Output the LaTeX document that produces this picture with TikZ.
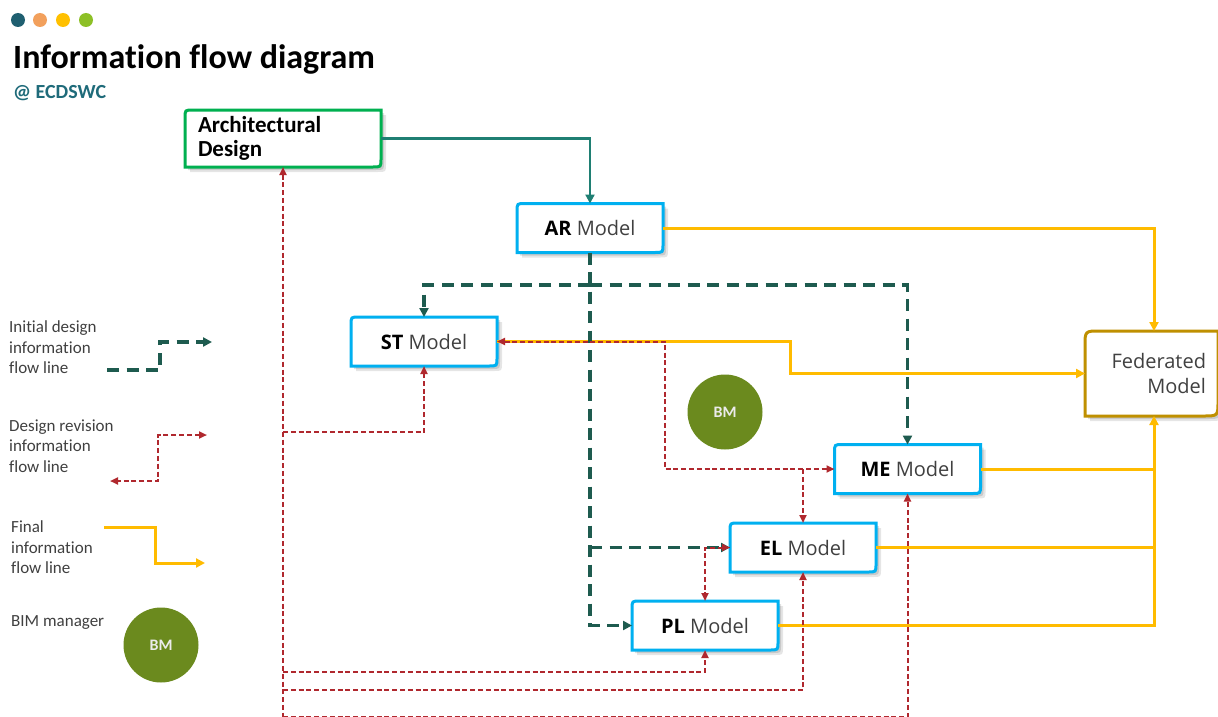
\documentclass[tikz,border=0pt]{standalone}
\usepackage{fontspec}
\setmainfont[Ligatures=NoCommon]{Carlito}
\newfontfamily\modelfont{Open Sans}
\usetikzlibrary{arrows.meta,calc,backgrounds}

\definecolor{tealarrow}{HTML}{1F7F73}
\definecolor{dgreen}{HTML}{1E5B4F}
\definecolor{revred}{HTML}{B0282E}
\definecolor{finyellow}{HTML}{FFBB00}
\definecolor{bluebd}{HTML}{00B0F0}
\definecolor{archbd}{HTML}{00B050}
\definecolor{fedbd}{HTML}{BF9000}
\definecolor{bmgreen}{HTML}{6B8A1E}
\definecolor{txt}{HTML}{404040}
\definecolor{subt}{HTML}{1F6B7A}
\definecolor{dotA}{HTML}{1F5F70}
\definecolor{dotB}{HTML}{F2A05C}
\definecolor{dotC}{HTML}{FFC000}
\definecolor{dotD}{HTML}{8DC026}

% outline with rounded top-left and bottom-right corners, shifted by #4
\newcommand\cornerframe[4]{%
  \path[#3] ($(#1.north west)+(0,#2)+(#4)$) .. controls ($(#1.north west)+(#4)$) .. ($(#1.north west)+(#2,0)+(#4)$)
    -- ($(#1.north east)+(#4)$)
    -- ($(#1.south east)-(0,#2)+(#4)$) .. controls ($(#1.south east)+(#4)$) .. ($(#1.south east)-(#2,0)+(#4)$)
    -- ($(#1.south west)+(#4)$) -- cycle;}

\tikzset{
  model/.style={minimum width=146pt, minimum height=49pt, inner sep=0pt, outer sep=0pt,
    font=\modelfont\fontsize{20}{24}\selectfont, text=txt},
  legendtext/.style={align=left, inner sep=0pt, text=txt, font=\fontsize{17}{20.5}\selectfont},
  bmcircle/.style={circle, fill=bmgreen, minimum size=75pt, inner sep=0pt,
    text=white!92!black, font=\bfseries\fontsize{16}{18}\selectfont},
  initial/.style={dgreen, line width=3.8pt, dash pattern=on 12pt off 7.5pt,
    >={Triangle[length=9pt,width=9pt]}},
  revision/.style={revred, line width=2pt, dash pattern=on 5pt off 2.8pt,
    >={Triangle[length=8pt,width=7pt]}},
  final/.style={finyellow, line width=3pt, >={Triangle[length=9pt,width=9pt]}},
  archflow/.style={tealarrow, line width=2.6pt, >={Triangle[length=9pt,width=9pt]}},
  shadowA/.style={fill=black, opacity=0.10},
  shadowB/.style={fill=black, opacity=0.12},
}

\begin{document}
\begin{tikzpicture}[x=1pt, y=-1pt, line join=miter]
\useasboundingbox (0,0) rectangle (1218,717);

% header
\fill[dotA] (18,20) circle (7);
\fill[dotB] (40,20) circle (7);
\fill[dotC] (63,20) circle (7);
\fill[dotD] (86,20) circle (7);
\node[anchor=base west, inner sep=0pt, font=\bfseries\fontsize{34}{40}\selectfont] (title) at (13,69) {Information flow diagram};
\node[anchor=base west, inner sep=0pt, text=subt, font=\bfseries\fontsize{20}{22}\selectfont] (sub) at (13,99) {@ ECDSWC};

% boxes
\node[minimum width=196pt, minimum height=57pt, text width=170pt, inner xsep=13pt, inner ysep=0pt,
  outer sep=0pt, align=left, font=\bfseries\fontsize{23}{24}\selectfont] (Arch) at (283,138.5)
  {Architectural\\Design};
\node[model] (AR) at (590,228) {\textbf{\color{black}AR} Model};
\node[model] (ST) at (424,341.5) {\textbf{\color{black}ST} Model};
\node[model] (ME) at (907.5,469) {\textbf{\color{black}ME} Model};
\node[model] (EL) at (803,547.5) {\textbf{\color{black}EL} Model};
\node[model] (PL) at (705,625.5) {\textbf{\color{black}PL} Model};
\node[minimum height=85pt, text width=109pt, inner xsep=12pt, inner ysep=0pt, outer sep=0pt,
  align=right, text=txt, font=\modelfont\fontsize{20}{25}\selectfont] (Fed) at (1151.5,373.5)
  {Federated\\Model};

\node[bmcircle] (bm) at (725,412) {BM};

\begin{pgfonlayer}{background}
  \fill[white] (0,0) rectangle (1218,717);
  \foreach \n/\r in {Arch/8,AR/8,ST/8,ME/8,EL/8,PL/8,Fed/15}{
    \cornerframe{\n}{\r}{shadowA}{5,5}
    \cornerframe{\n}{\r}{shadowB}{3,3}
  }
  \cornerframe{Arch}{8}{draw=archbd, line width=3pt, fill=white}{0,0}
  \foreach \n in {AR,ST,ME,EL,PL}{
    \cornerframe{\n}{8}{draw=bluebd, line width=3pt, fill=white}{0,0}
  }
  \cornerframe{Fed}{15}{draw=fedbd, line width=3pt, fill=white}{0,0}
\end{pgfonlayer}

% helper points for the routes
\coordinate (bus) at (1154,0);
\coordinate (gsplit) at (590,285);
\coordinate (ystep) at (790,360);
\coordinate (rstep) at (665,400);
\coordinate (rb0) at (283,720);
\coordinate (rb1) at (283,432);
\coordinate (rb2) at (283,672);
\coordinate (rb3) at (283,690);
\coordinate (rb4) at (283,717);

% design to architectural model
\draw[archflow,->] (Arch.east) -| (AR.north);

% final information flow
\draw[final,->] (AR.east) -| (Fed.north -| bus);
\draw[final,->] (ST.east) -| (ystep) |- (Fed.west);
\draw[final] (ME.east) -- (ME.east -| bus);
\draw[final] (EL.east) -- (EL.east -| bus);
\draw[final,->] (PL.east) -| (Fed.south -| bus);

% initial design flow
\draw[initial,->] (AR.south) |- (PL.west);
\draw[initial,->] (AR.south |- EL.west) -- (EL.west);
\draw[initial,->] (gsplit) -| (ST.north);
\draw[initial,->] (gsplit) -| (ME.north);

% design revision flow
\draw[revision,<->] (ST.east) -| (rstep) |- (ME.west);
\draw[revision,->] (EL.north |- ME.west) -- (EL.north);
\draw[revision,<->] (EL.west) -| (PL.north);
\draw[revision,<-] (Arch.south) -- (rb0);
\draw[revision,->] (rb1) -| (ST.south);
\draw[revision,->] (rb2) -| (PL.south);
\draw[revision,->] (rb3) -| (EL.south);
\draw[revision,->] (rb4) -| (ME.south);

% legend
\node[legendtext, anchor=west] (lgA) at (9,347.5) {Initial design\\information\\flow line};
\coordinate (lgAs) at (107,370);
\coordinate (lgAk) at (160,356);
\coordinate (lgAe) at (212,342);
\draw[initial,->] (lgAs) -| (lgAk) |- (lgAe);

\node[legendtext, anchor=west] (lgB) at (9,446) {Design revision\\information\\flow line};
\coordinate (lgBs) at (207,435);
\coordinate (lgBk) at (158,458);
\coordinate (lgBe) at (110,481);
\draw[revision,<->] (lgBs) -| (lgBk) |- (lgBe);

\node[legendtext, anchor=west] (lgC) at (11,547.5) {Final\\information\\flow line};
\coordinate (lgCs) at (104,527);
\coordinate (lgCk) at (155,545);
\coordinate (lgCe) at (205,563);
\draw[final,->] (lgCs) -| (lgCk) |- (lgCe);

\node[legendtext, anchor=west] (lgD) at (11,623) {BIM manager};
\node[bmcircle] (bmlegend) at (161,645) {BM};
\end{tikzpicture}
\end{document}
